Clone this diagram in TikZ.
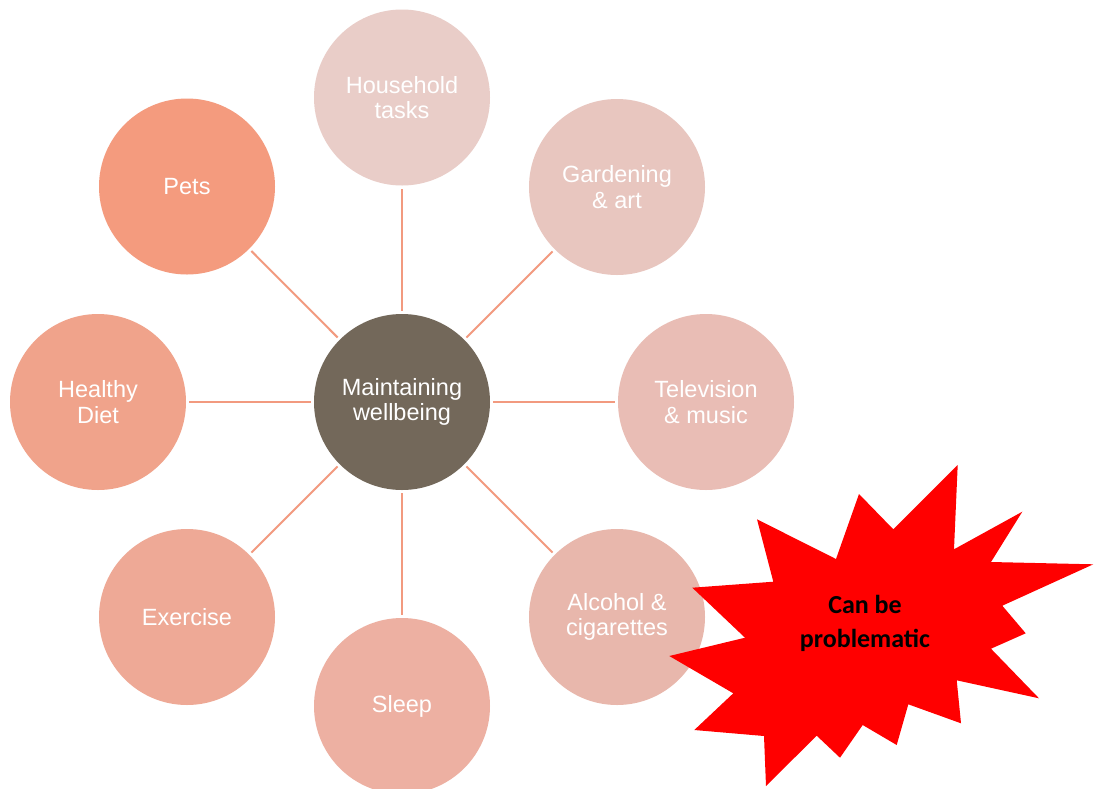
\documentclass[tikz,border=0pt]{standalone}
\usepackage{fontspec}
\setmainfont{Liberation Sans}
\newfontfamily\calib{Carlito}
\definecolor{cCenter}{HTML}{73685A}
\definecolor{cHouse}{HTML}{E9CDC8}
\definecolor{cGarden}{HTML}{E8C6BF}
\definecolor{cTV}{HTML}{E9BDB5}
\definecolor{cAlc}{HTML}{E8B7AC}
\definecolor{cSleep}{HTML}{EDB0A2}
\definecolor{cExer}{HTML}{EEA996}
\definecolor{cDiet}{HTML}{F0A38B}
\definecolor{cPets}{HTML}{F49B7E}
\definecolor{cLine}{HTML}{F29A7F}
\definecolor{cBurst}{HTML}{FF0000}
\begin{document}
\begin{tikzpicture}[x=1pt,y=-1pt,
  bub/.style={circle,minimum size=176pt,inner sep=0pt,draw=none,text=white,align=center,
    font=\fontsize{23.5}{25.7}\selectfont},
  conn/.style={draw=cLine,line width=2pt,shorten <=3pt,shorten >=3pt},
  burst/.style={fill=cBurst,draw=none},
  bursttext/.style={align=center,text=black,font=\calib\bfseries\fontsize{26}{34}\selectfont}]
\useasboundingbox (0,0) rectangle (1095,788);
\fill[white] (0,0) rectangle (1095,788);
\node[bub,fill=cCenter] (c) at (402,402) {Maintaining\\wellbeing};
\node[bub,fill=cHouse] (h) at (402,97.5) {Household\\tasks};
\node[bub,fill=cGarden] (g) at (617,187) {Gardening\\\& art};
\node[bub,fill=cTV] (t) at (706,402) {Television\\\& music};
\node[bub,fill=cAlc] (a) at (617,617) {Alcohol \&\\cigarettes};
\node[bub,fill=cSleep] (s) at (402,706) {Sleep};
\node[bub,fill=cExer] (e) at (187,617) {Exercise};
\node[bub,fill=cDiet] (d) at (98,402) {Healthy\\Diet};
\node[bub,fill=cPets] (p) at (187,186.5) {Pets};
\foreach \n in {h,g,t,a,s,e,d,p} \draw[conn] (c) -- (\n);
\fill[burst] (957.7,465) -- (954,549.3) -- (1022.3,511.7) -- (991,562) -- (1093.3,564.3)
  -- (1002.3,605.7) -- (1025.7,633.3) -- (991,648.7) -- (1039,698.3) -- (956.7,680.3)
  -- (961,723.3) -- (908.3,704.3) -- (896.7,745) -- (862.7,725) -- (840,757.7)
  -- (816.7,735.7) -- (766,786) -- (764,736) -- (694.3,730) -- (733.3,693.3)
  -- (669.3,656) -- (745,637.7) -- (692.3,587.7) -- (773.3,581.7) -- (757,519.3)
  -- (836,559) -- (859,494) -- (893.3,529.3) -- cycle;
\node[bursttext] (b) at (865,623) {Can be\\problematic};
\end{tikzpicture}
\end{document}
